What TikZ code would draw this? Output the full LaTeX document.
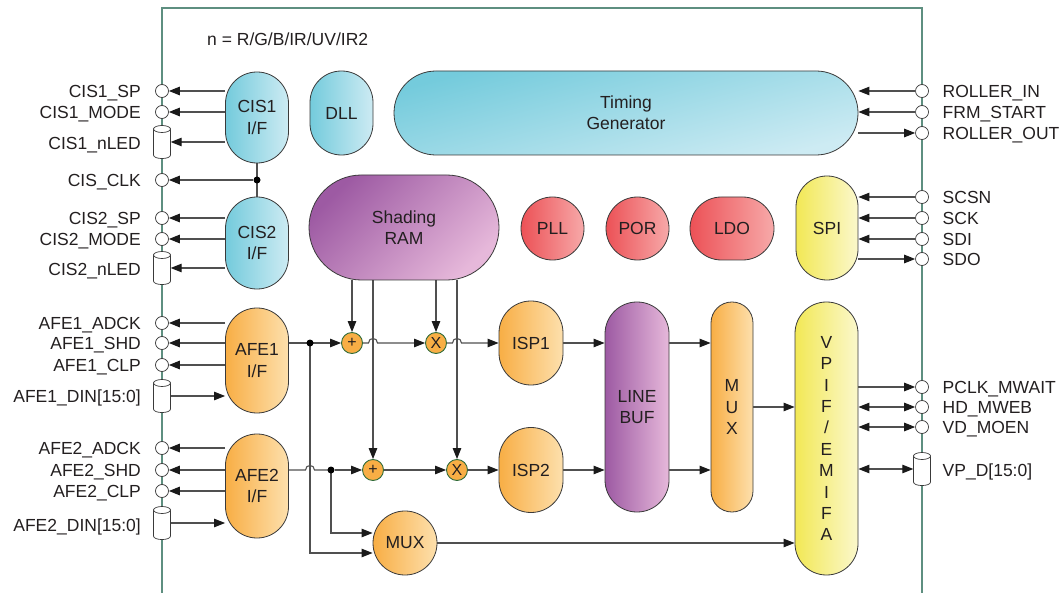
\documentclass[tikz,border=0pt]{standalone}
\usepackage{fontspec}
\setmainfont{Liberation Sans}
\usetikzlibrary{arrows.meta,calc,backgrounds}
\definecolor{txt}{HTML}{231F20}
\definecolor{wirec}{HTML}{505050}
\definecolor{tipc}{HTML}{1A1A1A}
\definecolor{edgec}{HTML}{3A3A3A}
\definecolor{framec}{HTML}{5E8F80}
\definecolor{opedge}{HTML}{2F6B3A}
\definecolor{cyD}{HTML}{74CBDC}
\definecolor{cyL}{HTML}{CDEBF3}
\definecolor{puD}{HTML}{9D5AA3}
\definecolor{puL}{HTML}{E6B8DA}
\definecolor{reD}{HTML}{EC5156}
\definecolor{reL}{HTML}{F7A9A9}
\definecolor{orD}{HTML}{F8AE45}
\definecolor{orL}{HTML}{FDE0AD}
\definecolor{yeD}{HTML}{F2E855}
\definecolor{yeL}{HTML}{FBF8CC}
\newcommand\cylpin[3]{%
  \node[cylnode] (#1) at (#2,#3) {};
  \filldraw[pinline] (#2-8.5,#3-13) -- (#2-8.5,#3+13) .. controls (#2-8.5,#3+17.7) and (#2+8.5,#3+17.7) .. (#2+8.5,#3+13) -- (#2+8.5,#3-13) -- cycle;
  \filldraw[pinline] (#2,#3-13) ellipse [x radius=8.5, y radius=3.5];
}
\begin{document}
\begin{tikzpicture}[x=1pt,y=-1pt,
  every node/.style={font=\fontsize{17.5}{21.4}\selectfont, text=txt},
  blk/.style={draw=edgec, line width=0.8pt, inner sep=0pt, align=center},
  sz/.style n args={3}{minimum width=#1pt, minimum height=#2pt, rounded corners=#3pt},
  hshade/.style 2 args={left color=#1, right color=#2},
  cyanblk/.style={blk, hshade={cyD}{cyL}},
  purpleblk/.style={blk, hshade={puD}{puL}},
  redblk/.style={blk, hshade={reD}{reL}},
  orangeblk/.style={blk, hshade={orD}{orL}},
  yellowblk/.style={blk, hshade={yeD}{yeL}},
  pin/.style={circle, draw=edgec, line width=0.7pt, fill=white, minimum size=13pt, inner sep=0pt},
  pinline/.style={draw=edgec, line width=0.7pt, fill=white},
  cylnode/.style={rectangle, minimum width=17pt, minimum height=33pt, inner sep=0pt},
  op/.style={circle, draw=opedge, line width=0.9pt, fill=orD, minimum size=21pt, inner sep=0pt, font=\fontsize{16}{16}\selectfont},
  jdot/.style={circle, fill=black, minimum size=7pt, inner sep=0pt},
  wire/.style={draw=wirec, line width=1.1pt},
  arr/.style={wire, -{Triangle[length=11pt,width=8.5pt,color=tipc]}},
  darr/.style={wire, {Triangle[length=11pt,width=8.5pt,color=tipc]}-{Triangle[length=11pt,width=8.5pt,color=tipc]}},
  lbl/.style={anchor=base east, inner sep=0pt},
  rlbl/.style={anchor=base west, inner sep=0pt},
  frameline/.style={draw=framec, line width=1.3pt}
]
\useasboundingbox (0,0) rectangle (1062,593);

% blocks
\node[cyanblk, sz={63}{91}{31.4}] (cis1) at (257,117.5) {CIS1\\I/F};
\node[cyanblk, sz={63}{92}{31.4}] (cis2) at (257,243) {CIS2\\I/F};
\node[cyanblk, sz={63}{84}{31.4}] (dll) at (341.5,113) {DLL};
\node[blk, top color=cyD, bottom color=cyL, shading angle=15, sz={464}{84}{41.9}] (tg) at (626,113) {Timing\\Generator};
\node[blk, top color=puD, bottom color=puL, shading angle=45, sz={190}{105}{52.4}] (ram) at (404,227.5) {Shading\\RAM};
\node[redblk, sz={63}{63}{31.4}] (pll) at (552.5,228.5) {PLL};
\node[redblk, sz={63}{63}{31.4}] (por) at (637.5,228.5) {POR};
\node[redblk, sz={84}{63}{31.4}] (ldo) at (732,228.5) {LDO};
\node[yellowblk, sz={62}{104}{30.9}] (spi) at (827,228) {SPI};
\node[orangeblk, sz={63}{105}{31.4}] (afe1) at (257,360.5) {AFE1\\I/F};
\node[orangeblk, sz={63}{104}{31.4}] (afe2) at (257,486) {AFE2\\I/F};
\node[orangeblk, sz={64}{84}{31.9}] (isp1) at (531,343) {ISP1};
\node[orangeblk, sz={64}{85}{31.9}] (isp2) at (531,470) {ISP2};
\node[purpleblk, sz={64}{210}{31.9}] (lbuf) at (637,407) {LINE\\BUF};
\node[orangeblk, sz={42}{210}{20.9}] (mux1) at (732,407) {M\\U\\X};
\node[yellowblk, sz={63}{273}{31.4}] (vpif) at (826.5,438.5) {V\\P\\I\\F\\/\\E\\M\\I\\F\\A};
\node[orangeblk, sz={64}{64}{31.9}] (mux2) at (405,543) {MUX};

% operators and junctions
\node[op] (plus1) at (352,343) {+};
\node[op] (x1) at (436,343) {X};
\node[op] (plus2) at (373,470) {+};
\node[op] (x2) at (457,470) {X};
\node[jdot] (dot0) at (257,180) {};
\node[jdot] (dot1) at (310,343) {};
\node[jdot] (dot2) at (331,470) {};

\node[anchor=base west, inner sep=0pt] (note) at (207,45.3) {n = R/G/B/IR/UV/IR2};

% left pins
\node[pin] (p_cis1sp) at (162,91) {};
\node[pin] (p_cis1mode) at (162,112) {};
\cylpin{c_cis1led}{162}{142}
\node[pin] (p_cisclk) at (162,180) {};
\node[pin] (p_cis2sp) at (162,218) {};
\node[pin] (p_cis2mode) at (162,239) {};
\cylpin{c_cis2led}{162}{268}
\node[pin] (p_afe1adck) at (162,323) {};
\node[pin] (p_afe1shd) at (162,343) {};
\node[pin] (p_afe1clp) at (162,365) {};
\cylpin{c_afe1din}{162}{396}
\node[pin] (p_afe2adck) at (162,448) {};
\node[pin] (p_afe2shd) at (162,470) {};
\node[pin] (p_afe2clp) at (162,491) {};
\cylpin{c_afe2din}{162}{523}

% right pins
\node[pin] (p_rin) at (922,91) {};
\node[pin] (p_frm) at (922,112) {};
\node[pin] (p_rout) at (922,133) {};
\node[pin] (p_scsn) at (922,197) {};
\node[pin] (p_sck) at (922,218) {};
\node[pin] (p_sdi) at (922,239) {};
\node[pin] (p_sdo) at (922,259) {};
\node[pin] (p_pclk) at (922,387) {};
\node[pin] (p_hd) at (922,407) {};
\node[pin] (p_vd) at (922,427) {};
\cylpin{c_vpd}{922}{469}

% left labels
\node[lbl] (l1) at ($(p_cis1sp)+(-21,6.3)$) {CIS1\_SP};
\node[lbl] (l2) at ($(p_cis1mode)+(-21,6.3)$) {CIS1\_MODE};
\node[lbl] (l3) at ($(c_cis1led)+(-21,7.3)$) {CIS1\_nLED};
\node[lbl] (l4) at ($(p_cisclk)+(-21,6.3)$) {CIS\_CLK};
\node[lbl] (l5) at ($(p_cis2sp)+(-21,6.3)$) {CIS2\_SP};
\node[lbl] (l6) at ($(p_cis2mode)+(-21,6.3)$) {CIS2\_MODE};
\node[lbl] (l7) at ($(c_cis2led)+(-21,7.3)$) {CIS2\_nLED};
\node[lbl] (l8) at ($(p_afe1adck)+(-21,6.3)$) {AFE1\_ADCK};
\node[lbl] (l9) at ($(p_afe1shd)+(-21,6.3)$) {AFE1\_SHD};
\node[lbl] (l10) at ($(p_afe1clp)+(-21,6.3)$) {AFE1\_CLP};
\node[lbl] (l11) at ($(c_afe1din)+(-21,6.8)$) {AFE1\_DIN[15:0]};
\node[lbl] (l12) at ($(p_afe2adck)+(-21,6.3)$) {AFE2\_ADCK};
\node[lbl] (l13) at ($(p_afe2shd)+(-21,6.3)$) {AFE2\_SHD};
\node[lbl] (l14) at ($(p_afe2clp)+(-21,6.3)$) {AFE2\_CLP};
\node[lbl] (l15) at ($(c_afe2din)+(-21,8.3)$) {AFE2\_DIN[15:0]};

% right labels
\node[rlbl] (r1) at ($(p_rin)+(20.5,6.3)$) {ROLLER\_IN};
\node[rlbl] (r2) at ($(p_frm)+(20.5,6.3)$) {FRM\_START};
\node[rlbl] (r3) at ($(p_rout)+(20.5,6.3)$) {ROLLER\_OUT};
\node[rlbl] (r4) at ($(p_scsn)+(20.5,6.3)$) {SCSN};
\node[rlbl] (r5) at ($(p_sck)+(20.5,6.3)$) {SCK};
\node[rlbl] (r6) at ($(p_sdi)+(20.5,6.3)$) {SDI};
\node[rlbl] (r7) at ($(p_sdo)+(20.5,6.3)$) {SDO};
\node[rlbl] (r8) at ($(p_pclk)+(20.5,6.3)$) {PCLK\_MWAIT};
\node[rlbl] (r9) at ($(p_hd)+(20.5,6.3)$) {HD\_MWEB};
\node[rlbl] (r10) at ($(p_vd)+(20.5,6.3)$) {VD\_MOEN};
\node[rlbl] (r11) at ($(c_vpd)+(20.5,7.3)$) {VP\_D[15:0]};

\coordinate (h1) at (plus2 |- plus1);
\coordinate (h2) at (x2 |- x1);
\coordinate (h3) at (dot1 |- plus2);

\begin{pgfonlayer}{background}
\draw[frameline] (162,600) -- (162,8) -- (922,8) -- (922,600);

% CIS
\draw[arr] (cis1.west |- p_cis1sp) -- (p_cis1sp);
\draw[arr] (cis1.west |- p_cis1mode) -- (p_cis1mode);
\draw[arr] (cis1.west |- c_cis1led) -- (c_cis1led);
\draw[wire] (cis1.south) -- (cis2.north);
\draw[arr] (dot0) -- (p_cisclk);
\draw[arr] (cis2.west |- p_cis2sp) -- (p_cis2sp);
\draw[arr] (cis2.west |- p_cis2mode) -- (p_cis2mode);
\draw[arr] (cis2.west |- c_cis2led) -- (c_cis2led);

% AFE
\draw[arr] (afe1.west |- p_afe1adck) -- (p_afe1adck);
\draw[arr] (afe1.west |- p_afe1shd) -- (p_afe1shd);
\draw[arr] (afe1.west |- p_afe1clp) -- (p_afe1clp);
\draw[arr] (c_afe1din) -- (afe1.west |- c_afe1din);
\draw[arr] (afe2.west |- p_afe2adck) -- (p_afe2adck);
\draw[arr] (afe2.west |- p_afe2shd) -- (p_afe2shd);
\draw[arr] (afe2.west |- p_afe2clp) -- (p_afe2clp);
\draw[arr] (c_afe2din) -- (afe2.west |- c_afe2din);

% timing / spi
\draw[arr] (p_rin) -- (tg.east |- p_rin);
\draw[arr] (p_frm) -- (tg.east |- p_frm);
\draw[arr] (tg.east |- p_rout) -- (p_rout);
\draw[arr] (p_scsn) -- (spi.east |- p_scsn);
\draw[arr] (p_sck) -- (spi.east |- p_sck);
\draw[arr] (p_sdi) -- (spi.east |- p_sdi);
\draw[arr] (spi.east |- p_sdo) -- (p_sdo);

% shading RAM taps
\draw[arr] (ram.south -| plus1) -- (plus1);
\draw[arr] (ram.south -| plus2) -- (plus2);
\draw[arr] (ram.south -| x1) -- (x1);
\draw[arr] (ram.south -| x2) -- (x2);

% upper data path
\draw[arr] (afe1.east |- plus1) -- (plus1);
\draw[arr] (plus1) -- ($(h1)+(-4.5,0)$) .. controls ($(h1)+(-4.5,-6)$) and ($(h1)+(4.5,-6)$) .. ($(h1)+(4.5,0)$) -- (x1);
\draw[arr] (x1) -- ($(h2)+(-4.5,0)$) .. controls ($(h2)+(-4.5,-6)$) and ($(h2)+(4.5,-6)$) .. ($(h2)+(4.5,0)$) -- (isp1.west |- x1);
\draw[arr] (isp1) -- (lbuf.west |- isp1);
\draw[arr] (lbuf.east |- isp1) -- (mux1.west |- isp1);

% lower data path
\draw[wire] (afe2.east |- plus2) -- ($(h3)+(-4.5,0)$) .. controls ($(h3)+(-4.5,-6)$) and ($(h3)+(4.5,-6)$) .. ($(h3)+(4.5,0)$) -- (dot2.center);
\draw[arr] (dot2) -- (plus2);
\draw[arr] (plus2) -- (x2);
\draw[arr] (x2) -- (isp2.west |- x2);
\draw[arr] (isp2) -- (lbuf.west |- isp2);
\draw[arr] (lbuf.east |- isp2) -- (mux1.west |- isp2);

% bypass mux
\draw[arr] (dot1.center) |- ($(mux2.west)+(0,10)$);
\draw[arr] (dot2.center) |- ($(mux2.west)+(0,-10)$);
\draw[arr] (mux2) -- (vpif.west |- mux2);
\draw[arr] (mux1) -- (vpif.west |- mux1);

% VPIF pins
\draw[arr] (vpif.east |- p_pclk) -- (p_pclk);
\draw[darr] (vpif.east |- p_hd) -- (p_hd);
\draw[darr] (vpif.east |- p_vd) -- (p_vd);
\draw[darr] (vpif.east |- c_vpd) -- (c_vpd);
\end{pgfonlayer}
\end{tikzpicture}
\end{document}
